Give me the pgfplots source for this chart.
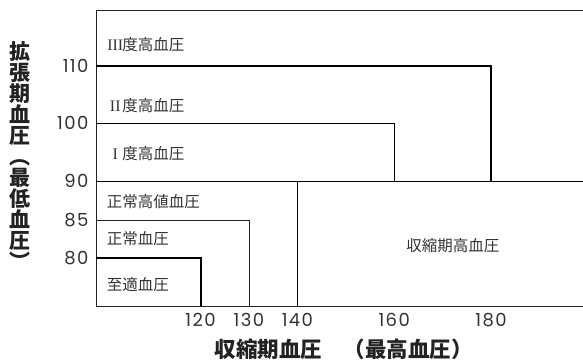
\documentclass[border=0pt]{standalone}
\usepackage{pgfplots}
\pgfplotsset{compat=1.18}
\usepackage{fontspec}
\setmainfont{Noto Sans CJK JP}
\newfontfamily\numfont[LetterSpace=8]{Poppins}
\newfontfamily\romfont{Liberation Serif}

\definecolor{ln}{HTML}{222222}
\definecolor{tx}{HTML}{333333}

% y is a display position (pt above the bottom line), labelled with mmHg
\newcommand{\rn}[1]{\makebox[14pt][c]{\romfont\fontsize{16}{16}\selectfont #1}}

\begin{document}
\begin{tikzpicture}
\useasboundingbox (0,0) rectangle (583pt,361pt);
\begin{axis}[
    at={(96pt,55pt)}, anchor=south west,
    scale only axis,
    width=487pt, height=296pt,
    xmin=98.4, xmax=199,
    ymin=0, ymax=296,
    clip=false,
    axis line style={draw=none},
    major tick length=0pt,
    xtick={120,130,140,160,180},
    ytick={48,86,125,183,240},
    yticklabels={80,85,90,100,110},
    /pgf/number format/assume math mode=true,
    tick label style={font=\numfont\fontsize{18}{18}\selectfont, text=tx},
    xticklabel style={yshift=-4pt},
    yticklabel style={xshift=-4pt},
    cycle list={{draw=ln, line width=2pt, mark=none, solid}},
]
% outer frame (open on the right)
\addplot coordinates {(201,296) (98.4,296) (98.4,0) (201,0)};
% III: dbp >= 110 / sbp >= 180
\addplot coordinates {(98.4,240) (180,240) (180,125)};
% II: dbp 100 / sbp 160
\addplot coordinates {(98.4,183) (160,183) (160,125)};
% 90 line across
\addplot coordinates {(98.4,125) (201,125)};
% normal high: 85 / 130
\addplot coordinates {(98.4,86) (130,86) (130,0)};
% optimal: 80 / 120
\addplot coordinates {(98.4,48) (120,48) (120,0)};
% isolated systolic: 140
\addplot coordinates {(140,125) (140,0)};

\begin{scope}[every node/.style={anchor=west, inner sep=0pt, text=tx, font=\fontsize{15.5}{15.5}\selectfont}]
\node at (axis cs:100.9,261) {\rn{III}度高血圧};
\node at (axis cs:100.9,200) {\rn{II}度高血圧};
\node at (axis cs:100.9,152) {\rn{I}度高血圧};
\node at (axis cs:100.6,104.3) {正常高値血圧};
\node at (axis cs:100.6,67) {正常血圧};
\node at (axis cs:100.6,21) {至適血圧};
\node[anchor=center] at (axis cs:172.1,60) {収縮期高血圧};
\end{scope}
\end{axis}

\node[inner sep=0pt, text=ln, font=\bfseries\fontsize{21.5}{21.5}\selectfont] at (343.5pt,12pt) {収縮期血圧　（最高血圧）};
\node[inner sep=0pt, text=ln, align=center, font=\bfseries\fontsize{21}{21}\selectfont] at (20pt,205.5pt)
  {拡\\張\\期\\血\\圧\\︵\\最\\低\\血\\圧\\︶};
\end{tikzpicture}
\end{document}
